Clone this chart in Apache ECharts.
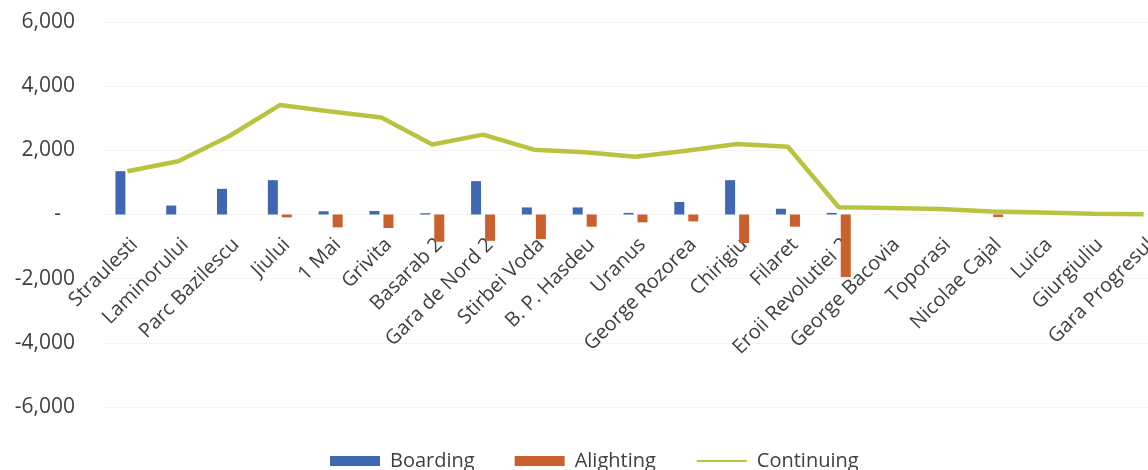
<!DOCTYPE html>
<html>
<head>
<meta charset="utf-8">
<script src="https://cdn.jsdelivr.net/npm/echarts@6/dist/echarts.min.js"></script>
<style>
  html, body { margin: 0; padding: 0; background: #ffffff; }
  #chart { width: 1148px; height: 470px; }
</style>
</head>
<body>
<div id="chart"></div>
<script>
// Stations along the line, in travel order
const stations = [
  'Straulesti', 'Laminorului', 'Parc Bazilescu', 'Jiului', '1 Mai', 'Grivita',
  'Basarab 2', 'Gara de Nord 2', 'Stirbei Voda', 'B. P. Hasdeu', 'Uranus',
  'George Rozorea', 'Chirigiu', 'Filaret', 'Eroii Revolutiei 2', 'George Bacovia',
  'Toporasi', 'Nicolae Cajal', 'Luica', 'Giurgiuliu', 'Gara Progresul'
];

// Passengers getting on at each station
const boarding = [1350, 280, 800, 1070, 100, 110, 40, 1040, 220, 220, 50, 390, 1070, 180, 50, 0, 0, 0, 0, 0, 0];

// Passengers getting off (drawn below zero)
const alighting = [0, 0, 0, -90, -400, -420, -850, -820, -765, -380, -245, -215, -890, -380, -1950, 0, 0, -80, 0, 0, 0];

// Passengers staying on board after each station
const continuing = [1350, 1660, 2440, 3410, 3210, 3020, 2180, 2490, 2020, 1940, 1800, 1990, 2200, 2110, 225, 200, 175, 90, 60, 20, 10];

// Value axis ticks
const yMin = -6000;
const yMax = 6000;
const yStep = 2000;

const FONT = '"Open Sans", "Noto Sans", sans-serif';
const TEXT = '#404040';

// Plot area geometry
const GRID_TOP = 22;
const GRID_HEIGHT = 385;

const chart = echarts.init(document.getElementById('chart'), null, { renderer: 'canvas' });

chart.setOption({
  animation: false,
  backgroundColor: '#ffffff',
  textStyle: { fontFamily: FONT },
  grid: {
    left: 102, top: GRID_TOP, width: 1067, height: GRID_HEIGHT,
    containLabel: false,
    outerBoundsMode: 'none'
  },
  legend: {
    left: 325,
    top: 446,
    itemWidth: 50,
    itemHeight: 10,
    itemGap: 40,
    textStyle: { fontFamily: FONT, fontSize: 20, color: TEXT, padding: [0, 0, 0, 5] },
    data: [
      { name: 'Boarding', icon: 'rect' },
      { name: 'Alighting', icon: 'rect' },
      { name: 'Continuing', itemStyle: { opacity: 0 } }
    ]
  },
  xAxis: {
    type: 'category',
    data: stations,
    position: 'bottom',
    // lift the category axis from the bottom edge up to the zero line (range is symmetric)
    offset: -GRID_HEIGHT / 2,
    axisLine: { show: false, onZero: false },
    axisTick: { show: false },
    axisLabel: {
      interval: 0,
      rotate: 45,
      margin: 20,
      verticalAlign: 'top',
      fontFamily: FONT,
      fontSize: 20,
      color: TEXT
    },
    splitLine: { show: false }
  },
  yAxis: {
    type: 'value',
    min: yMin,
    max: yMax,
    interval: yStep,
    axisLine: { show: false },
    axisTick: { show: false },
    axisLabel: {
      margin: 27,
      fontFamily: FONT,
      fontSize: 21,
      color: TEXT,
      formatter: function (v) {
        if (v === 0) return '{z|-}';
        return v.toLocaleString('en-US');
      },
      rich: {
        z: { fontFamily: FONT, fontSize: 21, color: TEXT, padding: [0, 14, 0, 0] }
      }
    },
    splitLine: { show: true, lineStyle: { color: '#f4f4f4', width: 1 } }
  },
  series: [
    {
      name: 'Boarding',
      type: 'bar',
      data: boarding,
      barWidth: 10,
      barGap: '40%',
      itemStyle: { color: '#4068b2' }
    },
    {
      name: 'Alighting',
      type: 'bar',
      data: alighting,
      barWidth: 10,
      itemStyle: { color: '#c9602d' }
    },
    {
      name: 'Continuing',
      type: 'line',
      data: continuing,
      symbol: 'none',
      smooth: false,
      lineStyle: { color: '#bac33f', width: 4.5 },
      itemStyle: { color: '#bac33f' },
      z: 3
    }
  ]
});
</script>
</body>
</html>
